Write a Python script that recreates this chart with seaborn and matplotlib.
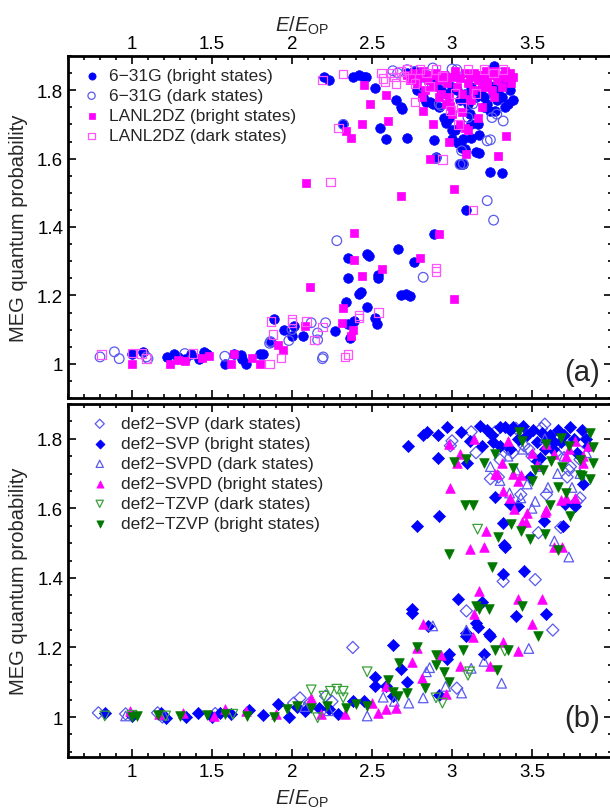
import numpy as np
import pandas as pd
import matplotlib
matplotlib.use("Agg")
import matplotlib.pyplot as plt
from matplotlib.ticker import MultipleLocator, FuncFormatter
import seaborn as sns

# ---------------- Panel (a) data ----------------
a_631g_bright_x = [1.00, 1.07, 1.22, 1.26, 1.29, 1.33, 1.37, 1.42, 1.45, 1.47, 1.58, 1.64, 1.68, 1.69, 1.71, 1.80, 1.82, 1.87, 1.89, 1.95,
                   2.00, 2.01, 2.07, 2.27, 2.34, 2.35, 2.35, 2.35, 2.36, 2.39, 2.42, 2.43, 2.47, 2.48, 2.47, 2.52, 2.53, 2.54, 2.54, 2.66,
                   2.68, 2.71, 2.74, 2.76, 2.89, 3.09,
                   2.20, 2.23, 2.38, 2.42, 2.45, 2.46, 2.52, 2.65, 2.68, 2.69, 2.55, 2.59, 2.72, 2.84, 2.86, 2.89, 2.90, 2.95, 2.96, 2.98,
                   3.00, 3.02, 3.00, 3.04, 3.07, 3.06, 3.08, 3.05, 3.07, 3.10, 3.11, 3.12, 3.12, 3.16, 3.17, 3.17, 3.15, 3.20, 3.22, 3.24,
                   3.26, 3.28, 3.30, 3.27, 3.33, 3.31, 3.26, 3.24, 3.31, 2.32,
                   2.72, 2.76, 2.80, 2.83, 2.87, 2.90, 2.93, 2.97, 3.00, 3.03, 3.05, 3.08, 3.12, 3.15, 3.18, 3.22, 3.25, 3.29, 3.33, 3.36,
                   3.38, 3.35, 2.78, 2.82, 2.88, 2.92, 3.36, 3.20]
a_631g_bright_y = [1.030, 1.035, 1.020, 1.030, 1.020, 1.015, 1.030, 1.015, 1.035, 1.030, 1.000, 1.030, 1.025, 1.015, 1.000, 1.030, 1.030, 1.065, 1.130, 1.100,
                   1.080, 1.110, 1.080, 1.095, 1.180, 1.250, 1.310, 1.115, 1.076, 1.126, 1.205, 1.210, 1.320, 1.315, 1.166, 1.134, 1.117, 1.260, 1.250, 1.336,
                   1.200, 1.205, 1.198, 1.297, 1.380, 1.450,
                   1.840, 1.830, 1.840, 1.843, 1.838, 1.840, 1.806, 1.770, 1.750, 1.744, 1.690, 1.656, 1.660, 1.765, 1.765, 1.655, 1.604, 1.720, 1.705, 1.720,
                   1.685, 1.685, 1.656, 1.645, 1.656, 1.630, 1.627, 1.585, 1.585, 1.760, 1.730, 1.700, 1.660, 1.700, 1.617, 1.670, 1.620, 1.750, 1.760, 1.740,
                   1.790, 1.770, 1.780, 1.740, 1.750, 1.780, 1.870, 1.560, 1.558, 1.700,
                   1.850, 1.855, 1.850, 1.840, 1.830, 1.820, 1.800, 1.790, 1.810, 1.800, 1.770, 1.790, 1.810, 1.780, 1.800, 1.820, 1.810, 1.800, 1.820, 1.800,
                   1.770, 1.760, 1.800, 1.780, 1.760, 1.750, 1.840, 1.780]

a_631g_dark_x = [0.80, 0.89, 0.92, 1.09, 1.10, 1.33, 1.58, 1.86, 1.865, 1.98, 2.00, 2.12, 2.16, 2.16, 2.19, 2.195, 2.21, 2.28, 2.82, 3.22,
                 3.26, 2.63, 2.66, 2.72, 2.77, 2.82, 2.88, 2.92, 2.93, 3.00, 3.03, 3.05, 3.07, 3.06, 3.10, 3.13, 3.22, 3.25, 3.28, 3.32,
                 3.24, 2.90, 2.32, 3.18, 3.30]
a_631g_dark_y = [1.020, 1.035, 1.015, 1.020, 1.015, 1.030, 1.022, 1.060, 1.065, 1.068, 1.100, 1.120, 1.090, 1.070, 1.015, 1.020, 1.120, 1.360, 1.253, 1.477,
                 1.420, 1.857, 1.850, 1.860, 1.855, 1.810, 1.865, 1.760, 1.755, 1.862, 1.860, 1.583, 1.585, 1.623, 1.720, 1.760, 1.652, 1.720, 1.730, 1.710,
                 1.655, 1.600, 1.700, 1.840, 1.850]

a_lanl_bright_x = [1.00, 1.24, 1.29, 1.33, 1.44, 1.48, 1.62, 1.64, 1.75, 1.80, 1.91, 1.945, 2.08, 2.11, 2.09, 2.31, 2.32, 2.37, 2.38, 2.39,
                   2.39, 2.44, 2.56, 2.68, 2.80, 2.92, 3.01, 3.01,
                   2.45, 2.49, 2.59, 2.60, 2.44, 2.37, 2.34, 2.86, 3.09, 3.29, 3.34,
                   2.72, 2.74, 2.76, 2.78, 2.80, 2.82, 2.83, 2.85, 2.87, 2.88, 2.90, 2.92, 2.93, 2.95, 2.97, 2.98, 3.00, 3.02, 3.03, 3.05,
                   3.06, 3.08, 3.10, 3.11, 3.13, 3.14, 3.16, 3.18, 3.19, 3.21, 3.22, 3.24, 3.25, 3.27, 3.28, 3.30, 3.31, 3.33, 3.34, 3.36,
                   3.37, 3.38, 2.96, 3.12, 3.00, 2.88, 3.19, 3.26, 2.98, 3.08, 2.82, 2.99, 3.06, 3.11, 3.16, 3.22, 2.92, 2.81, 3.05, 3.10]
a_lanl_bright_y = [1.000, 1.000, 1.012, 1.008, 1.018, 1.022, 1.000, 1.030, 1.017, 1.000, 1.056, 1.040, 1.110, 1.224, 1.530, 1.120, 1.163, 1.080, 1.100, 1.383,
                   1.304, 1.258, 1.277, 1.490, 1.310, 1.380, 1.510, 1.190,
                   1.815, 1.760, 1.785, 1.710, 1.700, 1.660, 1.680, 1.600, 1.614, 1.609, 1.667,
                   1.845, 1.830, 1.850, 1.820, 1.840, 1.855, 1.800, 1.830, 1.845, 1.810, 1.850, 1.830, 1.790, 1.845, 1.820, 1.780, 1.840, 1.855, 1.810, 1.835,
                   1.790, 1.850, 1.820, 1.840, 1.800, 1.850, 1.830, 1.845, 1.810, 1.855, 1.830, 1.845, 1.800, 1.855, 1.830, 1.845, 1.810, 1.855, 1.835, 1.850,
                   1.820, 1.840, 1.760, 1.770, 1.730, 1.700, 1.750, 1.780, 1.650, 1.690, 1.740, 1.753, 1.735, 1.774, 1.720, 1.810, 1.780, 1.780, 1.700, 1.685]

a_lanl_dark_x = [0.81, 1.00, 1.06, 1.09, 1.38, 1.86, 1.87, 1.88, 1.93, 2.00, 2.00, 2.09, 2.14, 2.19, 2.24, 2.33, 2.35, 2.42, 2.42, 2.54,
                 2.90, 2.90, 3.13, 2.19, 2.32, 2.29, 2.94,
                 2.56, 2.57, 2.58, 2.62, 2.64, 2.65, 2.68, 2.70, 2.72, 2.74, 2.77, 2.77, 2.80, 2.84, 2.86, 2.90, 2.94, 2.99, 3.02, 3.06,
                 3.10, 3.15, 3.20, 3.26, 3.32, 3.04]
a_lanl_dark_y = [1.027, 1.032, 1.030, 1.015, 1.030, 1.000, 1.124, 1.085, 1.017, 1.130, 1.120, 1.124, 1.070, 1.107, 1.532, 1.020, 1.027, 1.134, 1.142, 1.150,
                 1.280, 1.270, 1.450, 1.830, 1.848, 1.690, 1.597,
                 1.850, 1.835, 1.825, 1.850, 1.838, 1.820, 1.855, 1.840, 1.860, 1.835, 1.820, 1.766, 1.860, 1.850, 1.810, 1.860, 1.840, 1.740, 1.790, 1.750,
                 1.860, 1.790, 1.860, 1.850, 1.860, 1.700]

# ---------------- Panel (b) data ----------------
b_svp_dark_x = [0.79, 0.96, 1.16, 1.19, 1.52, 2.01, 2.05, 2.11, 2.21, 2.25, 2.38, 3.03, 3.09, 3.32, 3.52, 3.63, 3.54, 3.68, 3.78,
                2.99, 3.12, 3.45, 3.48, 3.56, 3.24, 3.30, 3.38, 3.60, 3.70, 3.74, 3.82, 3.27, 3.40, 3.50, 3.65, 3.72, 3.80, 3.15, 3.59, 3.43,
                3.00, 3.29, 3.35, 3.58, 3.70, 3.73, 3.80]
b_svp_dark_y = [1.012, 1.009, 1.012, 1.000, 1.010, 1.040, 1.055, 1.040, 1.060, 1.045, 1.200, 1.083, 1.305, 1.390, 1.395, 1.250, 1.530, 1.545, 1.620,
                1.780, 1.820, 1.780, 1.770, 1.830, 1.685, 1.740, 1.760, 1.790, 1.800, 1.720, 1.790, 1.820, 1.830, 1.750, 1.760, 1.690, 1.740, 1.760, 1.640, 1.640,
                1.794, 1.690, 1.770, 1.842, 1.770, 1.710, 1.630]

b_svp_bright_x = [0.83, 1.00, 1.18, 1.21, 1.34, 1.41, 1.50, 1.55, 1.62, 1.73, 1.82, 1.91, 1.98, 2.03, 2.08, 2.17, 2.23, 2.29, 2.38, 2.45,
                  2.52, 2.52, 2.59, 2.63, 2.63, 2.68, 2.72, 2.75, 2.75, 2.85, 2.92, 2.97, 2.98, 3.04, 3.09, 3.09, 3.15, 3.16, 3.19, 3.20,
                  3.23, 3.24, 3.40, 3.45, 3.32, 3.33, 3.59,
                  2.727, 2.821, 2.842, 2.915, 2.915, 2.971, 3.054, 3.112, 3.092, 3.175, 3.185, 3.217, 3.258, 3.300, 3.331, 3.362, 3.383, 3.446, 3.508, 3.560,
                  3.612, 3.665, 3.737, 3.810, 3.300, 3.362, 3.550, 3.633, 3.487, 3.269, 3.362, 3.415, 2.920, 2.779, 3.327, 3.577, 3.696, 3.769, 3.821, 3.529,
                  3.321, 3.706, 3.410, 3.470, 3.530, 3.600, 3.640, 3.700, 3.760, 3.780, 3.840, 3.850, 3.250, 3.420, 3.580, 3.680]
b_svp_bright_y = [1.012, 1.003, 1.012, 0.998, 1.000, 1.012, 1.000, 1.012, 1.008, 1.020, 1.006, 1.038, 1.000, 1.028, 1.017, 1.026, 1.022, 1.008, 1.045, 1.045,
                  1.116, 1.088, 1.088, 1.060, 1.208, 1.138, 1.100, 1.310, 1.300, 1.262, 1.062, 1.168, 1.182, 1.340, 1.234, 1.242, 1.270, 1.260, 1.330, 1.182,
                  1.240, 1.232, 1.290, 1.420, 1.410, 1.490, 1.295,
                  1.780, 1.810, 1.820, 1.810, 1.744, 1.835, 1.820, 1.795, 1.730, 1.838, 1.778, 1.824, 1.790, 1.835, 1.835, 1.824, 1.835, 1.838, 1.824, 1.818,
                  1.810, 1.824, 1.835, 1.824, 1.778, 1.770, 1.746, 1.770, 1.690, 1.634, 1.612, 1.607, 1.578, 1.550, 1.496, 1.564, 1.550, 1.607, 1.670, 1.736,
                  1.558, 1.612, 1.800, 1.810, 1.790, 1.800, 1.790, 1.810, 1.800, 1.760, 1.800, 1.780, 1.810, 1.800, 1.770, 1.790]

b_svpd_dark_x = [0.96, 1.20, 2.08, 2.23, 2.47, 2.57, 2.64, 2.73, 2.82, 2.86, 2.84, 2.88, 2.96, 3.06, 3.09, 3.31, 3.48, 3.73, 3.64, 3.36,
                 3.43, 3.20, 3.12, 3.24, 3.30, 3.35, 3.40, 3.47, 3.52, 3.55, 3.60, 3.66, 3.70, 3.75, 3.80, 3.84, 3.50, 3.58, 3.44]
b_svpd_dark_y = [1.003, 1.005, 1.030, 1.018, 1.003, 1.057, 1.045, 1.040, 1.055, 1.142, 1.130, 1.262, 1.088, 1.069, 1.250, 1.097, 1.197, 1.460, 1.506, 1.644,
                 1.630, 1.160, 1.140, 1.720, 1.680, 1.750, 1.710, 1.670, 1.620, 1.720, 1.660, 1.700, 1.750, 1.660, 1.700, 1.760, 1.600, 1.800, 1.770]

b_svpd_bright_x = [0.99, 1.17, 1.32, 1.51, 1.58, 1.71, 1.90, 2.12, 2.18, 2.33, 2.50, 2.54, 2.59, 2.59, 2.65, 2.75, 2.78, 2.82, 2.81, 2.93,
                   2.96, 3.05, 3.13, 3.14, 3.17, 3.24, 3.32, 3.41, 3.41, 3.50, 3.56,
                   2.98, 2.99, 3.11, 3.20, 3.21, 3.28, 3.32, 3.36, 3.43, 3.44, 3.47, 3.58, 3.64, 3.68, 3.77, 3.82, 3.14, 3.05, 3.03, 3.27,
                   3.31, 3.35, 3.38, 3.41, 3.50, 3.53, 3.59, 3.64, 3.71, 3.73, 3.77, 3.82, 3.39, 3.46, 3.59, 3.71, 3.69, 3.85]
b_svpd_bright_y = [1.017, 1.008, 1.012, 1.003, 1.022, 1.017, 1.008, 1.055, 1.008, 1.008, 1.040, 1.012, 1.088, 1.022, 1.026, 1.158, 1.198, 1.267, 1.111, 1.177,
                   1.067, 1.147, 1.230, 1.295, 1.361, 1.147, 1.215, 1.338, 1.190, 1.267, 1.338,
                   1.786, 1.658, 1.484, 1.489, 1.536, 1.700, 1.650, 1.630, 1.695, 1.560, 1.588, 1.590, 1.489, 1.625, 1.630, 1.730, 1.800, 1.755, 1.730, 1.700,
                   1.730, 1.794, 1.700, 1.680, 1.760, 1.725, 1.785, 1.756, 1.750, 1.770, 1.794, 1.750, 1.598, 1.560, 1.595, 1.630, 1.490, 1.780]

b_tzvp_dark_x = [0.83, 1.00, 1.21, 1.63, 2.12, 2.16, 2.20, 2.24, 2.28, 2.32, 2.32, 2.47, 2.90, 2.94, 3.10, 3.11, 3.16, 3.33]
b_tzvp_dark_y = [1.003, 1.005, 1.003, 1.008, 1.078, 0.998, 1.060, 1.074, 1.080, 1.074, 1.055, 1.130, 1.055, 1.040, 1.120, 1.130, 1.540, 1.190]

b_tzvp_bright_x = [1.00, 1.03, 1.16, 1.30, 1.47, 1.58, 1.72, 1.89, 1.97, 2.03, 2.12, 2.22, 2.34, 2.40, 2.47, 2.60, 2.63, 2.66, 2.67, 2.72,
                   2.78, 2.83, 2.90, 2.90, 2.95, 2.98, 3.07, 3.15, 3.17, 3.23, 3.27, 3.28, 3.35, 3.44, 3.54,
                   2.98, 3.01, 3.09, 3.08, 3.13, 3.25, 3.29, 3.37, 3.43, 3.49, 3.58, 3.61, 3.66, 3.74, 3.80, 3.20, 3.38, 3.42, 3.27, 3.44,
                   3.50, 3.52, 3.57, 3.59, 3.62, 3.68, 3.69, 3.73, 3.80, 3.81, 3.86, 3.88, 3.86, 3.88, 3.66, 3.71]
b_tzvp_bright_y = [1.000, 1.003, 1.006, 1.003, 1.006, 1.008, 1.003, 1.000, 1.022, 1.031, 1.025, 1.031, 1.026, 1.036, 1.031, 1.107, 1.072, 1.059, 1.154, 1.069,
                   1.200, 1.083, 1.177, 1.149, 1.130, 1.102, 1.192, 1.319, 1.310, 1.310, 1.192, 1.135, 1.192, 1.319, 1.234,
                   1.470, 1.734, 1.743, 1.611, 1.611, 1.432, 1.517, 1.555, 1.536, 1.512, 1.526, 1.611, 1.479, 1.578, 1.696, 1.730, 1.715, 1.820, 1.755, 1.794,
                   1.680, 1.710, 1.710, 1.785, 1.735, 1.803, 1.720, 1.780, 1.740, 1.693, 1.818, 1.775, 1.683, 1.730, 1.660, 1.645]

xticks = [1, 1.5, 2, 2.5, 3, 3.5]
yticks = [1, 1.2, 1.4, 1.6, 1.8]

# ---------------- styling ----------------
sns.set_theme(style="white")
plt.rcParams['font.family'] = ['Liberation Sans', 'DejaVu Sans']
plt.rcParams['mathtext.fontset'] = 'custom'
plt.rcParams['mathtext.rm'] = 'Liberation Sans'
plt.rcParams['mathtext.it'] = 'Liberation Sans:italic'

BLUE = '#0000ff'
LBLUE = '#5a5aee'
MAG = '#ff00ff'
LMAG = '#ff55ff'
GREEN = '#007800'
LGREEN = '#3aa03a'

fig = plt.figure(figsize=(6.10, 8.12), dpi=100)
W, H = 610.0, 812.0
axA = fig.add_axes([68 / W, 1 - 399 / H, 544 / W, 342 / H])
axB = fig.add_axes([68 / W, 1 - 758 / H, 544 / W, 353 / H])

S = 48
LW = 0.9

def filled(ax, x, y, marker, color, label, s=S):
    sns.scatterplot(x=x, y=y, ax=ax, marker=marker, s=s, color=color,
                    edgecolor=color, linewidth=0.5, label=label, zorder=3)

def hollow(ax, x, y, marker, color, label, s=S):
    sns.scatterplot(x=x, y=y, ax=ax, marker=marker, s=s, facecolor='none',
                    edgecolor=color, linewidth=LW, label=label, zorder=3)

filled(axA, a_631g_bright_x, a_631g_bright_y, 'o', BLUE, '6\u221231G (bright states)')
hollow(axA, a_631g_dark_x, a_631g_dark_y, 'o', LBLUE, '6\u221231G (dark states)')
filled(axA, a_lanl_bright_x, a_lanl_bright_y, 's', MAG, 'LANL2DZ (bright states)', s=38)
hollow(axA, a_lanl_dark_x, a_lanl_dark_y, 's', LMAG, 'LANL2DZ (dark states)', s=38)

hollow(axB, b_svp_dark_x, b_svp_dark_y, 'D', LBLUE, 'def2\u2212SVP (dark states)', s=38)
filled(axB, b_svp_bright_x, b_svp_bright_y, 'D', BLUE, 'def2\u2212SVP (bright states)', s=38)
hollow(axB, b_svpd_dark_x, b_svpd_dark_y, '^', LBLUE, 'def2\u2212SVPD (dark states)')
filled(axB, b_svpd_bright_x, b_svpd_bright_y, '^', MAG, 'def2\u2212SVPD (bright states)')
hollow(axB, b_tzvp_dark_x, b_tzvp_dark_y, 'v', LGREEN, 'def2\u2212TZVP (dark states)')
filled(axB, b_tzvp_bright_x, b_tzvp_bright_y, 'v', GREEN, 'def2\u2212TZVP (bright states)')

fmt = FuncFormatter(lambda v, p: '%g' % v)
for ax, ylim in ((axA, (0.9, 1.9)), (axB, (0.885, 1.9))):
    ax.set_xlim(0.6, 4.0)
    ax.set_ylim(*ylim)
    ax.set_xticks(xticks)
    ax.set_yticks(yticks)
    ax.xaxis.set_minor_locator(MultipleLocator(0.1))
    ax.yaxis.set_minor_locator(MultipleLocator(0.05))
    ax.xaxis.set_major_formatter(fmt)
    ax.yaxis.set_major_formatter(fmt)
    ax.tick_params(which='both', direction='in', top=True, bottom=True, left=True, right=True,
                   colors='black', labelsize=13.5, width=1.2)
    ax.tick_params(which='major', length=6)
    ax.tick_params(which='minor', length=3)
    for sp in ax.spines.values():
        sp.set_linewidth(2.0)
        sp.set_color('black')
    ax.set_ylabel('MEG quantum probability', fontsize=14.5)
    ax.yaxis.set_label_coords(-0.074, 0.5)
    ax.grid(False)

axA.tick_params(axis='x', labeltop=True, labelbottom=False, pad=3)
axA.xaxis.set_label_position('top')
axA.set_xlabel(r'$E/E_{\rm OP}$', fontsize=14.5, labelpad=1)
axA.xaxis.set_label_coords(0.43, 1.075)
axB.tick_params(axis='x', labeltop=False, labelbottom=True, pad=4)
axB.set_xlabel(r'$E/E_{\rm OP}$', fontsize=14.5, labelpad=0)
axB.xaxis.set_label_coords(0.43, -0.085)

axA.text(0.978, 0.075, '(a)', transform=axA.transAxes, ha='right', va='center', fontsize=21)
axB.text(0.978, 0.11, '(b)', transform=axB.transAxes, ha='right', va='center', fontsize=21)

axA.legend(loc='upper left', frameon=False, fontsize=12.5, markerscale=0.75,
           handletextpad=0.4, labelspacing=0.28, borderaxespad=0.2, handlelength=1.2,
           bbox_to_anchor=(0.005, 0.995))
axB.legend(loc='upper left', frameon=False, fontsize=12.5, markerscale=0.75,
           handletextpad=0.6, labelspacing=0.28, borderaxespad=0.2, handlelength=1.2,
           bbox_to_anchor=(0.02, 0.995))

fig.savefig('out.png', dpi=100)
